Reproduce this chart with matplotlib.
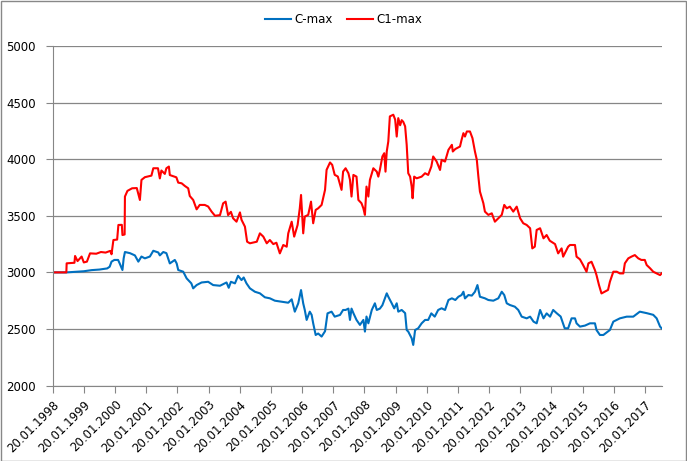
import matplotlib
matplotlib.use('Agg')
import matplotlib.pyplot as plt
import matplotlib.dates as mdates
from matplotlib.patches import Rectangle
import pandas as pd

# C1-max (red), decimal year -> value
c1_years = [1998.05, 1998.49, 1998.50, 1998.75, 1998.77, 1998.85, 1998.98, 1999.05, 1999.15, 1999.25,
            1999.45, 1999.60, 1999.75, 1999.90, 1999.94, 2000.00, 2000.12, 2000.16, 2000.27, 2000.29,
            2000.36, 2000.37, 2000.45, 2000.60, 2000.75, 2000.85, 2000.90, 2001.01, 2001.15, 2001.22,
            2001.28, 2001.43, 2001.49, 2001.54, 2001.65, 2001.70, 2001.78, 2001.81, 2001.92, 2002.02,
            2002.08, 2002.19, 2002.29, 2002.40, 2002.45, 2002.56, 2002.67, 2002.77, 2002.93, 2003.04,
            2003.15, 2003.26, 2003.42, 2003.52, 2003.60, 2003.68, 2003.77, 2003.84, 2003.95, 2004.06,
            2004.11, 2004.22, 2004.29, 2004.38, 2004.60, 2004.70, 2004.81, 2004.92, 2005.02, 2005.13,
            2005.23, 2005.34, 2005.45, 2005.56, 2005.61, 2005.72, 2005.80, 2005.91, 2005.98, 2006.02,
            2006.09, 2006.14, 2006.25, 2006.34, 2006.41, 2006.49, 2006.57, 2006.68, 2006.79, 2006.84,
            2006.95, 2007.02, 2007.10, 2007.20, 2007.32, 2007.37, 2007.45, 2007.54, 2007.59, 2007.64,
            2007.70, 2007.80, 2007.86, 2007.96, 2008.02, 2008.07, 2008.12, 2008.18, 2008.23, 2008.34,
            2008.45, 2008.50, 2008.55, 2008.63, 2008.69, 2008.73, 2008.77, 2008.82, 2008.87, 2008.98,
            2009.04, 2009.09, 2009.14, 2009.20, 2009.25, 2009.30, 2009.36, 2009.41, 2009.46, 2009.52,
            2009.57, 2009.60, 2009.65, 2009.73, 2009.89, 2010.00, 2010.10, 2010.20, 2010.26, 2010.37,
            2010.48, 2010.53, 2010.64, 2010.75, 2010.86, 2010.89, 2010.97, 2011.12, 2011.17, 2011.23,
            2011.28, 2011.34, 2011.44, 2011.52, 2011.60, 2011.66, 2011.71, 2011.76, 2011.87, 2011.92,
            2012.03, 2012.14, 2012.24, 2012.35, 2012.46, 2012.54, 2012.62, 2012.72, 2012.83, 2012.94,
            2013.05, 2013.15, 2013.26, 2013.37, 2013.44, 2013.52, 2013.58, 2013.69, 2013.80, 2013.90,
            2014.00, 2014.17, 2014.27, 2014.38, 2014.43, 2014.59, 2014.65, 2014.81, 2014.86, 2014.97,
            2015.07, 2015.18, 2015.24, 2015.34, 2015.45, 2015.50, 2015.58, 2015.66, 2015.77, 2015.87,
            2015.93, 2016.04, 2016.15, 2016.25, 2016.36, 2016.41, 2016.52, 2016.62, 2016.73, 2016.84,
            2016.94, 2017.05, 2017.11, 2017.22, 2017.32, 2017.43, 2017.54, 2017.59]
c1_values = [3000, 3000, 3080, 3085, 3145, 3100, 3140, 3088, 3095, 3168,
             3165, 3180, 3175, 3190, 3160, 3286, 3290, 3419, 3420, 3330,
             3335, 3670, 3720, 3743, 3745, 3640, 3817, 3841, 3850, 3855,
             3920, 3920, 3830, 3900, 3870, 3920, 3935, 3860, 3850, 3840,
             3793, 3787, 3764, 3743, 3675, 3640, 3557, 3596, 3596, 3582,
             3537, 3500, 3506, 3610, 3625, 3506, 3535, 3478, 3448, 3530,
             3465, 3404, 3271, 3257, 3271, 3345, 3316, 3257, 3286, 3250,
             3262, 3168, 3242, 3227, 3345, 3448, 3316, 3419, 3566, 3684,
             3345, 3493, 3508, 3625, 3434, 3552, 3566, 3596, 3729, 3906,
             3971, 3950, 3862, 3847, 3729, 3891, 3920, 3876, 3818, 3670,
             3861, 3846, 3640, 3611, 3566, 3508, 3758, 3670, 3817, 3920,
             3890, 3846, 3905, 4024, 4053, 3890, 4068, 4157, 4378, 4393,
             4350, 4200, 4363, 4300, 4345, 4330, 4290, 4127, 3876, 3846,
             3758, 3655, 3846, 3831, 3846, 3876, 3861, 3935, 4024, 3980,
             3905, 3994, 3979, 4083, 4127, 4068, 4090, 4112, 4170, 4230,
             4200, 4245, 4245, 4186, 4068, 3994, 3846, 3714, 3611, 3537,
             3508, 3522, 3448, 3478, 3508, 3596, 3566, 3581, 3537, 3581,
             3478, 3434, 3419, 3390, 3212, 3227, 3375, 3390, 3301, 3330,
             3280, 3250, 3168, 3212, 3139, 3227, 3242, 3242, 3139, 3115,
             3065, 3006, 3080, 3094, 3020, 2976, 2888, 2814, 2830, 2845,
             2917, 3006, 3006, 2991, 2991, 3080, 3124, 3139, 3153, 3124,
             3110, 3110, 3065, 3036, 3006, 2991, 2976, 2991]

# C-max (blue)
c_years = [1998.05, 1998.50, 1998.80, 1999.05, 1999.30, 1999.55, 1999.80, 1999.88, 1999.94, 2000.03,
           2000.15, 2000.20, 2000.29, 2000.33, 2000.37, 2000.53, 2000.69, 2000.80, 2000.90, 2001.01,
           2001.17, 2001.28, 2001.44, 2001.49, 2001.60, 2001.70, 2001.81, 2001.97, 2002.03, 2002.08,
           2002.24, 2002.35, 2002.50, 2002.56, 2002.67, 2002.83, 2003.04, 2003.20, 2003.42, 2003.63,
           2003.70, 2003.77, 2003.90, 2004.00, 2004.11, 2004.18, 2004.27, 2004.38, 2004.54, 2004.70,
           2004.86, 2005.02, 2005.18, 2005.40, 2005.61, 2005.72, 2005.82, 2005.93, 2006.02, 2006.09,
           2006.14, 2006.20, 2006.30, 2006.36, 2006.41, 2006.49, 2006.57, 2006.68, 2006.79, 2006.87,
           2007.00, 2007.10, 2007.27, 2007.37, 2007.45, 2007.54, 2007.59, 2007.64, 2007.70, 2007.80,
           2007.91, 2008.02, 2008.07, 2008.12, 2008.18, 2008.29, 2008.39, 2008.45, 2008.55, 2008.63,
           2008.69, 2008.77, 2008.82, 2008.93, 2009.01, 2009.09, 2009.14, 2009.25, 2009.36, 2009.41,
           2009.46, 2009.57, 2009.62, 2009.68, 2009.78, 2009.89, 2010.00, 2010.10, 2010.20, 2010.31,
           2010.42, 2010.53, 2010.64, 2010.75, 2010.86, 2010.97, 2011.07, 2011.17, 2011.23, 2011.28,
           2011.39, 2011.50, 2011.60, 2011.68, 2011.76, 2011.92, 2012.03, 2012.19, 2012.35, 2012.46,
           2012.54, 2012.62, 2012.72, 2012.88, 2012.99, 2013.10, 2013.26, 2013.37, 2013.48, 2013.58,
           2013.69, 2013.80, 2013.90, 2014.01, 2014.11, 2014.22, 2014.35, 2014.48, 2014.59, 2014.70,
           2014.81, 2014.86, 2014.97, 2015.13, 2015.29, 2015.45, 2015.50, 2015.61, 2015.72, 2015.93,
           2016.04, 2016.15, 2016.25, 2016.47, 2016.68, 2016.89, 2017.11, 2017.32, 2017.43, 2017.54,
           2017.59]
c_values = [3000, 3000, 3005, 3010, 3020, 3025, 3035, 3050, 3095, 3110,
            3110, 3080, 3021, 3125, 3180, 3170, 3150, 3095, 3140, 3124,
            3140, 3191, 3176, 3150, 3180, 3170, 3079, 3110, 3079, 3021,
            3006, 2947, 2903, 2859, 2888, 2911, 2917, 2888, 2882, 2911,
            2864, 2917, 2903, 2970, 2932, 2955, 2903, 2859, 2829, 2815,
            2780, 2771, 2750, 2741, 2732, 2762, 2653, 2726, 2844, 2726,
            2668, 2580, 2653, 2625, 2550, 2447, 2460, 2433, 2480, 2638,
            2653, 2609, 2624, 2668, 2668, 2680, 2580, 2680, 2640, 2580,
            2536, 2580, 2477, 2610, 2550, 2668, 2727, 2668, 2680, 2710,
            2756, 2815, 2785, 2727, 2682, 2727, 2653, 2668, 2640, 2491,
            2477, 2418, 2359, 2491, 2506, 2550, 2580, 2580, 2638, 2609,
            2668, 2683, 2668, 2756, 2771, 2756, 2785, 2800, 2829, 2770,
            2800, 2795, 2829, 2888, 2785, 2771, 2756, 2750, 2771, 2829,
            2800, 2727, 2712, 2697, 2668, 2609, 2594, 2609, 2565, 2550,
            2668, 2594, 2638, 2609, 2668, 2640, 2610, 2506, 2506, 2594,
            2594, 2550, 2521, 2530, 2550, 2550, 2491, 2447, 2447, 2491,
            2565, 2580, 2594, 2609, 2609, 2653, 2640, 2625, 2594, 2521,
            2506]

tick_years = list(range(1998, 2018))


def to_dates(years):
    # decimal year -> timestamp
    base = pd.Timestamp('1998-01-01')
    return [base + pd.Timedelta(days=(y - 1998) * 365.25) for y in years]


fig = plt.figure(figsize=(6.87, 4.61), dpi=100)
ax = fig.add_axes([0.0767, 0.1636, 0.8866, 0.7366])

ax.plot(to_dates(c_years), c_values, color='#0070C0', lw=1.5, label='C-max')
ax.plot(to_dates(c1_years), c1_values, color='#FF0000', lw=1.5, label='C1-max')

ax.set_ylim(2000, 5000)
ax.set_yticks(range(2000, 5001, 500))
ax.set_xlim(pd.Timestamp('1998-01-20'), pd.Timestamp('2017-08-06'))
ax.set_xticks([pd.Timestamp(f'{y}-01-20') for y in tick_years])
ax.xaxis.set_major_formatter(mdates.DateFormatter('%d.%m.%Y'))
plt.setp(ax.get_xticklabels(), rotation=45, ha='right', rotation_mode='anchor')

ax.grid(axis='y', color='#868686', lw=0.9)
ax.set_axisbelow(True)
for side in ['top', 'right']:
    ax.spines[side].set_visible(False)
for side in ['left', 'bottom']:
    ax.spines[side].set_color('#868686')
ax.tick_params(axis='both', colors='#868686', labelcolor='black', length=5)
ax.tick_params(axis='y', labelsize=8.5, pad=7)
ax.tick_params(axis='x', labelsize=8.5, pad=4)

fig.legend(loc='center', bbox_to_anchor=(0.5, 0.957), ncol=2, frameon=False,
           fontsize=8.5, handlelength=2.2, columnspacing=1.2, handletextpad=0.3)

fig.patches.append(Rectangle((0.001, 0.001), 0.997, 0.997, transform=fig.transFigure,
                             fill=False, edgecolor='#888888', lw=1))

fig.savefig('out.png', dpi=100)
